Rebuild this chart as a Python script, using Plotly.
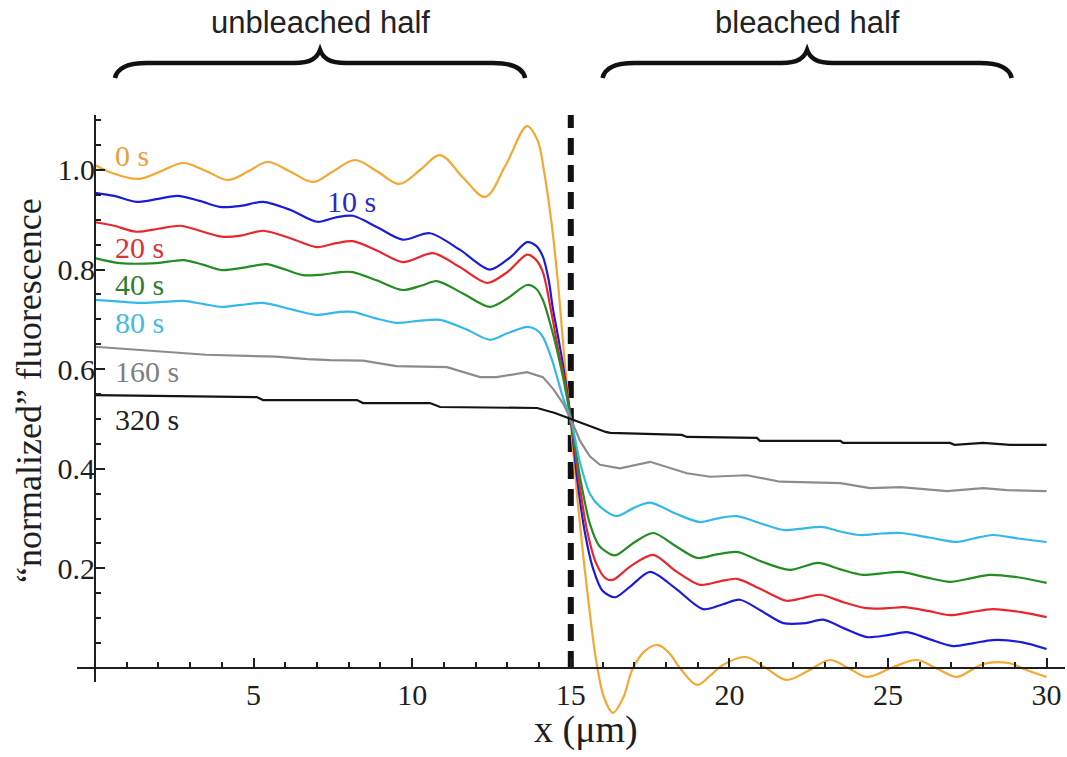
import plotly.graph_objects as go

# ---- fluorescence profiles across the bleach boundary (x in µm) ----
x_0s = [0, 0.5, 1.36, 2.1, 2.78, 3.5, 4.2, 4.85, 5.45, 6.15, 6.87, 7.5, 8.2, 8.9, 9.6, 10.25,
        10.88, 11.6, 12.3, 12.95, 13.62, 13.95, 14.15, 14.4, 14.6, 14.8, 15.0, 15.2, 15.4, 15.6,
        15.8, 16.05, 16.33, 16.65, 16.96, 17.35, 17.75, 18.1, 18.44, 18.98, 19.4, 19.77, 20.5,
        21.15, 21.8, 22.5, 23.17, 23.75, 24.33, 25.1, 25.9, 26.5, 27.17, 27.6, 28.0, 28.8, 29.4, 30.0]
y_0s = [1.010, 0.995, 0.982, 0.998, 1.014, 0.998, 0.980, 0.998, 1.016, 0.997, 0.976, 0.997, 1.020,
        0.997, 0.972, 1.000, 1.030, 0.985, 0.946, 1.010, 1.088, 1.060, 1.000, 0.890, 0.770, 0.620,
        0.490, 0.345, 0.220, 0.110, 0.015, -0.060, -0.090, -0.060, 0.000, 0.035, 0.046, 0.030,
        0.000, -0.034, -0.015, 0.005, 0.022, 0.000, -0.024, -0.005, 0.016, 0.000, -0.018, 0.000,
        0.016, 0.000, -0.018, -0.005, 0.008, 0.010, -0.005, -0.018]

x_10s = [0, 0.6, 1.3, 2.0, 2.6, 3.3, 3.94, 4.6, 5.3, 6.15, 7.0, 7.6, 8.13, 8.9, 9.7, 10.56, 11.5,
         12.45, 13.1, 13.62, 13.9, 14.12, 14.3, 14.44, 14.6, 14.75, 15.0, 15.2, 15.45, 15.7, 16.0,
         16.4, 16.9, 17.5, 18.3, 19.17, 19.8, 20.33, 21.0, 21.7, 22.4, 22.95, 23.6, 24.33, 25.0,
         25.6, 26.3, 27.05, 27.7, 28.3, 29.2, 30.0]
y_10s = [0.954, 0.948, 0.936, 0.942, 0.948, 0.938, 0.926, 0.928, 0.936, 0.920, 0.896, 0.905, 0.908,
         0.885, 0.860, 0.873, 0.840, 0.800, 0.825, 0.855, 0.848, 0.826, 0.780, 0.720, 0.665, 0.610,
         0.500, 0.380, 0.270, 0.200, 0.155, 0.142, 0.165, 0.193, 0.160, 0.118, 0.128, 0.137, 0.115,
         0.090, 0.090, 0.097, 0.080, 0.062, 0.066, 0.072, 0.058, 0.044, 0.050, 0.056, 0.052, 0.038]

x_20s = [0, 0.6, 1.3, 2.0, 2.7, 3.3, 4.0, 4.6, 5.3, 6.2, 7.0, 7.6, 8.13, 8.9, 9.7, 10.66, 11.5,
         12.36, 13.0, 13.62, 13.9, 14.12, 14.4, 14.6, 14.8, 15.0, 15.25, 15.5, 15.8, 16.1, 16.33,
         16.9, 17.6, 18.3, 19.07, 19.7, 20.24, 21.0, 21.8, 22.3, 22.86, 23.6, 24.33, 25.0, 25.5,
         26.3, 26.95, 27.6, 28.3, 29.2, 30.0]
y_20s = [0.895, 0.888, 0.876, 0.882, 0.888, 0.878, 0.866, 0.868, 0.878, 0.862, 0.845, 0.853, 0.857,
         0.838, 0.815, 0.833, 0.805, 0.773, 0.795, 0.830, 0.820, 0.795, 0.710, 0.640, 0.580, 0.500,
         0.380, 0.280, 0.210, 0.180, 0.177, 0.205, 0.227, 0.195, 0.167, 0.174, 0.179, 0.158, 0.135,
         0.140, 0.147, 0.132, 0.120, 0.120, 0.122, 0.114, 0.106, 0.112, 0.118, 0.112, 0.102]

x_40s = [0, 0.79, 1.95, 2.78, 3.4, 4.0, 4.7, 5.4, 6.0, 6.56, 7.2, 7.72, 8.13, 8.9, 9.7, 10.3, 10.78,
         11.6, 12.45, 13.0, 13.62, 13.9, 14.12, 14.4, 14.75, 15.0, 15.3, 15.6, 15.9, 16.3, 16.45,
         17.0, 17.6, 18.3, 18.98, 19.6, 20.24, 21.0, 21.9, 22.8, 23.5, 24.2, 24.8, 25.4, 26.2,
         26.95, 27.6, 28.2, 29.0, 30.0]
y_40s = [0.823, 0.813, 0.813, 0.819, 0.810, 0.799, 0.804, 0.811, 0.800, 0.789, 0.790, 0.795, 0.795,
         0.778, 0.759, 0.768, 0.777, 0.752, 0.725, 0.742, 0.769, 0.762, 0.739, 0.680, 0.585, 0.500,
         0.380, 0.290, 0.245, 0.227, 0.227, 0.252, 0.271, 0.245, 0.221, 0.228, 0.233, 0.214, 0.197,
         0.211, 0.198, 0.187, 0.190, 0.193, 0.182, 0.173, 0.180, 0.187, 0.183, 0.171]

x_80s = [0, 0.7, 1.42, 2.1, 2.78, 3.4, 4.0, 4.6, 5.3, 6.2, 7.0, 7.72, 8.13, 8.8, 9.5, 10.2, 10.88,
         11.7, 12.45, 13.0, 13.62, 13.9, 14.12, 14.4, 14.75, 15.0, 15.3, 15.6, 15.92, 16.45, 17.0,
         17.5, 18.3, 19.07, 19.6, 20.24, 21.0, 21.7, 22.3, 22.95, 23.5, 24.1, 24.8, 25.4, 26.3,
         27.17, 27.7, 28.3, 29.1, 30.0]
y_80s = [0.739, 0.736, 0.733, 0.735, 0.737, 0.731, 0.725, 0.729, 0.733, 0.720, 0.709, 0.715, 0.715,
         0.703, 0.693, 0.697, 0.699, 0.680, 0.659, 0.672, 0.685, 0.680, 0.665, 0.620, 0.544, 0.500,
         0.410, 0.350, 0.324, 0.305, 0.322, 0.332, 0.310, 0.293, 0.300, 0.305, 0.290, 0.277, 0.280,
         0.283, 0.274, 0.267, 0.270, 0.271, 0.262, 0.253, 0.260, 0.267, 0.260, 0.253]

x_160s = [0, 1.5, 3.5, 5.7, 6.7, 7.41, 8.45, 9.5, 11.1, 12.14, 12.66, 13.62, 14.12, 14.45, 14.75,
          15.0, 15.3, 15.6, 15.92, 16.55, 17.5, 18.66, 19.4, 20.55, 21.6, 23.5, 24.43, 25.4,
          26.86, 28.0, 28.75, 30.0]
y_160s = [0.645, 0.638, 0.629, 0.625, 0.620, 0.618, 0.617, 0.606, 0.604, 0.584, 0.584, 0.594, 0.584,
          0.560, 0.532, 0.500, 0.455, 0.425, 0.408, 0.401, 0.414, 0.391, 0.384, 0.387, 0.374, 0.371,
          0.361, 0.363, 0.355, 0.361, 0.357, 0.355]

x_320s = [0, 5.1, 5.3, 8.26, 8.45, 10.56, 10.88, 13.94, 14.5, 15.0, 15.5, 16.1, 16.24, 18.5, 18.66,
          20.87, 20.96, 23.5, 23.58, 26.95, 27.1, 28.0, 28.85, 30.0]
y_320s = [0.548, 0.544, 0.538, 0.538, 0.532, 0.532, 0.524, 0.522, 0.512, 0.500, 0.487, 0.474, 0.472,
          0.468, 0.464, 0.462, 0.456, 0.456, 0.452, 0.452, 0.448, 0.452, 0.448, 0.448]

series_names = ["0 s", "10 s", "20 s", "40 s", "80 s", "160 s", "320 s"]
series_x = [x_0s, x_10s, x_20s, x_40s, x_80s, x_160s, x_320s]
series_y = [y_0s, y_10s, y_20s, y_40s, y_80s, y_160s, y_320s]
line_colors = ["#f2a832", "#1c1cd8", "#e8262c", "#238c23", "#34b8ea", "#8c8c8c", "#141414"]
label_colors = ["#eb9f3c", "#2a2ac4", "#d83434", "#2f7d2f", "#45b9e6", "#7f7f7f", "#202020"]
line_shapes = ["spline", "spline", "spline", "spline", "spline", "linear", "linear"]
line_smoothing = [1.0, 0.8, 0.8, 0.8, 0.8, None, None]

# series label anchors (left edge, vertical centre)
label_x = [0.57, 7.25, 0.57, 0.57, 0.57, 0.57, 0.57]
label_y = [1.03, 0.936, 0.845, 0.771, 0.693, 0.595, 0.498]

x_ticks = [5, 10, 15, 20, 25, 30]
y_ticks = [0.2, 0.4, 0.6, 0.8, 1.0]
y_tick_text = ["0.2", "0.4", "0.6", "0.8", "1.0"]
# minor y ticks every 0.05 above the x axis only
y_minor = [round(0.05 * k, 2) for k in range(1, 23) if k % 4 != 0]

boundary_x = 15
regions = ["unbleached half", "bleached half"]
region_spans = [(0.63, 13.56), (16.0, 28.9)]

# ---- layout geometry ----
W, H = 1067, 757
M_L, M_R, M_T, M_B = 77, 2, 115, 37
PLOT_W = W - M_L - M_R
PLOT_H = H - M_T - M_B
X_RANGE = [-0.567, 30.58]
Y_RANGE = [-0.1045, 1.1104]
Y_SPINE_BOTTOM = -0.028      # the y spine stops a little below the x axis

SERIF = "Liberation Serif, Times New Roman, serif"
SANS = "Liberation Sans, Arial, sans-serif"
INK = "#1e1e1e"

fig = go.Figure()

for name, xs, ys, col, shp, sm in zip(series_names, series_x, series_y, line_colors,
                                     line_shapes, line_smoothing):
    line = dict(color=col, width=2.2, shape=shp)
    if sm is not None:
        line["smoothing"] = sm
    fig.add_trace(go.Scatter(x=xs, y=ys, mode="lines", name=name, line=line,
                             hoverinfo="x+y+name", showlegend=False))

for name, lx, ly, col in zip(series_names, label_x, label_y, label_colors):
    fig.add_annotation(x=lx, y=ly, xref="x", yref="y", text=name, showarrow=False,
                       xanchor="left", yanchor="middle",
                       font=dict(family=SERIF, size=30, color=col))

# dashed boundary between the two halves
fig.add_shape(type="line", xref="x", yref="y", x0=boundary_x, x1=boundary_x,
              y0=0, y1=Y_RANGE[1], layer="below",
              line=dict(color="#111111", width=6, dash="17px,10px"))

# y spine drawn explicitly so it ends just below the x axis
fig.add_shape(type="line", xref="x", yref="y", x0=0, x1=0, y0=Y_SPINE_BOTTOM, y1=Y_RANGE[1],
              layer="above", line=dict(color=INK, width=2))


def to_paper_x(v):
    return (v - X_RANGE[0]) / (X_RANGE[1] - X_RANGE[0])


def brace_path(x_left, x_right):
    """Curly brace above the plot, opening downward, in paper coordinates."""
    xl, xr = to_paper_x(x_left), to_paper_x(x_right)
    xc = 0.5 * (xl + xr)
    dx = 1.0 / PLOT_W
    dy = 1.0 / PLOT_H
    y_end = 1 + 37 * dy
    y_body = 1 + 52 * dy
    y_tip = 1 + 65 * dy

    def p(x, y):
        return f"{x:.5f},{y:.5f}"

    return (
        f"M {p(xl, y_end)} "
        f"C {p(xl + 2 * dx, y_end + 9 * dy)} {p(xl + 10 * dx, y_body)} {p(xl + 32 * dx, y_body)} "
        f"L {p(xc - 26 * dx, y_body)} "
        f"C {p(xc - 9 * dx, y_body)} {p(xc - 3 * dx, y_body + 5 * dy)} {p(xc, y_tip)} "
        f"C {p(xc + 3 * dx, y_body + 5 * dy)} {p(xc + 9 * dx, y_body)} {p(xc + 26 * dx, y_body)} "
        f"L {p(xr - 32 * dx, y_body)} "
        f"C {p(xr - 10 * dx, y_body)} {p(xr - 2 * dx, y_end + 9 * dy)} {p(xr, y_end)}"
    )


for label, (a, b) in zip(regions, region_spans):
    fig.add_shape(type="path", xref="paper", yref="paper", path=brace_path(a, b),
                  line=dict(color="#111111", width=4.5))
    fig.add_annotation(x=to_paper_x(0.5 * (a + b)), y=1 + 92 / PLOT_H, xref="paper", yref="paper",
                       text=label, showarrow=False, xanchor="center", yanchor="middle",
                       font=dict(family=SANS, size=31, color="#222222"))

# axis titles
fig.add_annotation(x=(29 - M_L) / PLOT_W, y=1 + (M_T - 391) / PLOT_H, xref="paper", yref="paper",
                   text="“normalized” fluorescence", textangle=-90, showarrow=False,
                   xanchor="center", yanchor="middle",
                   font=dict(family=SERIF, size=36, color=INK))
fig.add_annotation(x=(586 - M_L) / PLOT_W, y=1 + (M_T - 729) / PLOT_H, xref="paper", yref="paper",
                   text="x (μm)", showarrow=False, xanchor="center", yanchor="middle",
                   font=dict(family=SERIF, size=38, color=INK))

x_axis_pos = (0 - Y_RANGE[0]) / (Y_RANGE[1] - Y_RANGE[0])
y_axis_pos = (0 - X_RANGE[0]) / (X_RANGE[1] - X_RANGE[0])

fig.update_layout(
    width=W, height=H,
    margin=dict(l=M_L, r=M_R, t=M_T, b=M_B, pad=0),
    paper_bgcolor="white", plot_bgcolor="white",
    xaxis=dict(
        range=X_RANGE, anchor="free", position=x_axis_pos,
        showgrid=False, zeroline=False, showline=True, linecolor=INK, linewidth=2,
        tickmode="array", tickvals=x_ticks, ticktext=[str(v) for v in x_ticks],
        ticks="inside", ticklen=9, tickwidth=2, tickcolor=INK,
        tickfont=dict(family=SERIF, size=30, color=INK),
        minor=dict(tick0=0, dtick=1, ticks="inside", ticklen=5, tickwidth=2, tickcolor=INK),
    ),
    yaxis=dict(
        range=Y_RANGE, anchor="free", position=y_axis_pos,
        showgrid=False, zeroline=False, showline=False,
        tickmode="array", tickvals=y_ticks, ticktext=y_tick_text,
        ticks="inside", ticklen=9, tickwidth=2, tickcolor=INK,
        tickfont=dict(family=SERIF, size=30, color=INK),
        minor=dict(tickmode="array", tickvals=y_minor, ticks="inside", ticklen=5,
                   tickwidth=2, tickcolor=INK),
    ),
)

fig.write_html("out.html")
